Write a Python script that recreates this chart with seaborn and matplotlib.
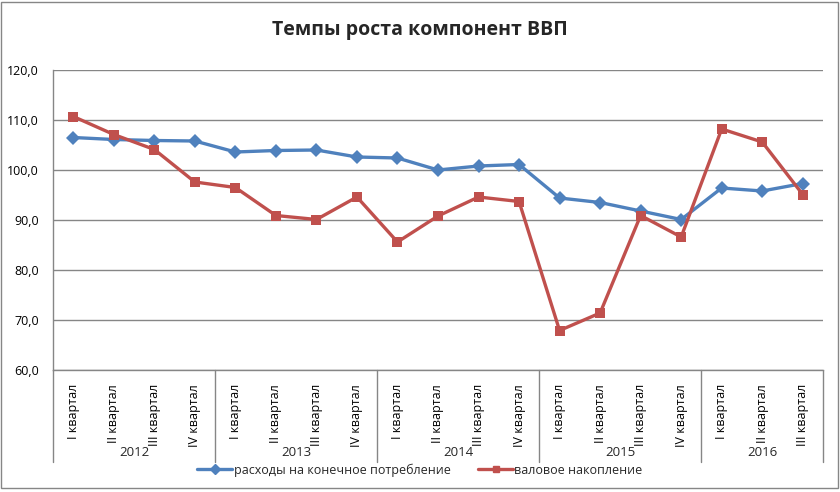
import matplotlib
matplotlib.use("Agg")
import matplotlib.pyplot as plt
import matplotlib.transforms as mtransforms
from matplotlib.patches import Rectangle
from matplotlib.ticker import FuncFormatter, MultipleLocator
import seaborn as sns
import pandas as pd

years = ["2012", "2013", "2014", "2015", "2016"]
quarters_per_year = [4, 4, 4, 4, 3]
quarter_names = ["I квартал", "II квартал", "III квартал", "IV квартал"]

consumption = [106.5, 106.1, 105.9, 105.8, 103.6, 103.9, 104.0, 102.6, 102.4,
               100.0, 100.8, 101.1, 94.4, 93.5, 91.8, 90.1, 96.4, 95.8, 97.3]
accumulation = [110.7, 107.1, 104.1, 97.6, 96.5, 90.9, 90.1, 94.6, 85.6,
                90.8, 94.6, 93.7, 67.9, 71.4, 90.9, 86.6, 108.2, 105.6, 95.1]

series_names = ["расходы на конечное потребление", "валовое накопление"]
title = "Темпы роста компонент ВВП"

quarter_labels = []
for n in quarters_per_year:
    quarter_labels += quarter_names[:n]

n = len(consumption)
df = pd.DataFrame({
    "idx": list(range(n)) * 2,
    "value": consumption + accumulation,
    "series": [series_names[0]] * n + [series_names[1]] * n,
})

sns.set_theme(style="white")
plt.rcParams["font.family"] = ["Open Sans", "DejaVu Sans"]

W, H = 840, 492
fig = plt.figure(figsize=(W / 100, H / 100), dpi=100)
ax_left, ax_right, ax_top, ax_bottom = 53, 823, 70, 370
ax = fig.add_axes([ax_left / W, 1 - ax_bottom / H, (ax_right - ax_left) / W, (ax_bottom - ax_top) / H])

blue = "#4F81BD"
red = "#C0504D"
sns.lineplot(data=df, x="idx", y="value", hue="series", style="series",
             palette={series_names[0]: blue, series_names[1]: red},
             markers={series_names[0]: "D", series_names[1]: "s"},
             dashes=False, linewidth=2.4, markersize=7, markeredgewidth=0,
             ax=ax, legend=False, zorder=3)

ax.set_xlim(-0.5, n - 0.5)
ax.set_ylim(60, 120)
ax.yaxis.set_major_locator(MultipleLocator(10))
ax.yaxis.set_major_formatter(FuncFormatter(lambda v, p: f"{v:.1f}".replace(".", ",")))
ax.grid(axis="y", color="#868686", linewidth=1)
ax.set_axisbelow(True)
for s in ["top", "right"]:
    ax.spines[s].set_visible(False)
for s in ["left", "bottom"]:
    ax.spines[s].set_color("#868686")
    ax.spines[s].set_linewidth(1)
ax.set_xlabel("")
ax.set_ylabel("")
ax.tick_params(axis="y", length=0, labelsize=9, pad=10, labelcolor="black")
ax.set_xticks(range(n))
ax.set_xticklabels(quarter_labels, rotation=90, fontsize=9, va="top", ha="center")
ax.tick_params(axis="x", length=0, pad=10, labelcolor="black")

# Multi-level axis: separators and year labels
trans = mtransforms.blended_transform_factory(ax.transData, ax.transAxes)
depth = -(462 - ax_bottom) / (ax_bottom - ax_top)
pos = -0.5
bounds = [pos]
for cnt in quarters_per_year:
    pos += cnt
    bounds.append(pos)
for b in bounds:
    ax.plot([b, b], [0, depth], transform=trans, color="#868686", linewidth=1, clip_on=False)
year_y = -(453 - ax_bottom) / (ax_bottom - ax_top)
for i, y in enumerate(years):
    ax.text((bounds[i] + bounds[i + 1]) / 2, year_y, y, transform=trans,
            ha="center", va="center", fontsize=9.5)

fig.text(0.5, 1 - 30 / H, title, ha="center", va="center", fontsize=14, fontweight="bold")

handles = [plt.Line2D([], [], color=blue, marker="D", linewidth=2.4, markersize=5),
           plt.Line2D([], [], color=red, marker="s", linewidth=2.4, markersize=5)]
fig.legend(handles, series_names, loc="center", bbox_to_anchor=(0.5, 1 - 470 / H),
           ncol=2, frameon=False, fontsize=9, handlelength=2.8, handletextpad=0.1,
           columnspacing=2.2)

fig.patches.append(Rectangle((1 / W, 1 - 488 / H), 837 / W, 486 / H, transform=fig.transFigure,
                             fill=False, edgecolor="#868686", linewidth=1))

fig.savefig("out.png", dpi=100)
